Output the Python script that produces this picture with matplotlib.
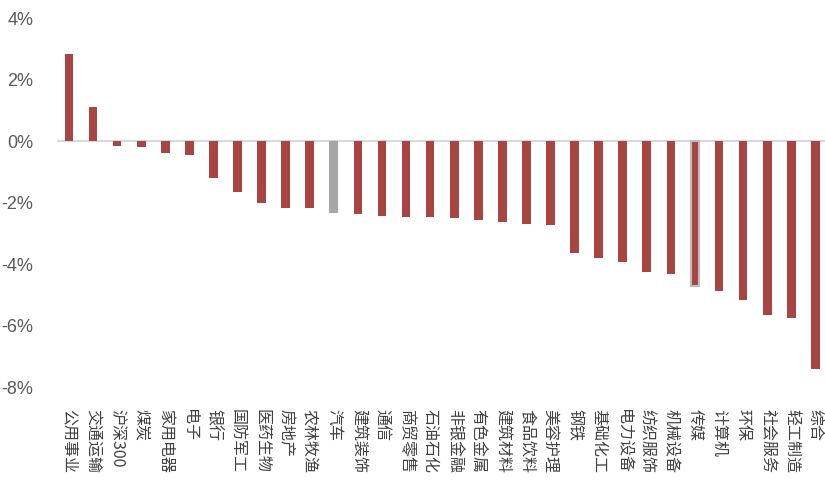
import matplotlib
matplotlib.use('Agg')
import matplotlib.pyplot as plt
from matplotlib.ticker import FuncFormatter

plt.rcParams['font.family'] = ['Liberation Sans', 'Noto Sans CJK SC', 'DejaVu Sans']

categories = ['公用事业', '交通运输', '沪深300', '煤炭', '家用电器', '电子', '银行', '国防军工',
              '医药生物', '房地产', '农林牧渔', '汽车', '建筑装饰', '通信', '商贸零售', '石油石化',
              '非银金融', '有色金属', '建筑材料', '食品饮料', '美容护理', '钢铁', '基础化工', '电力设备',
              '纺织服饰', '机械设备', '传媒', '计算机', '环保', '社会服务', '轻工制造', '综合']
values = [2.82, 1.10, -0.16, -0.20, -0.39, -0.45, -1.20, -1.66,
          -2.01, -2.17, -2.17, -2.34, -2.37, -2.43, -2.47, -2.47,
          -2.50, -2.56, -2.63, -2.69, -2.73, -3.64, -3.80, -3.93,
          -4.25, -4.32, -4.72, -4.87, -5.16, -5.65, -5.75, -7.40]
grey_cat = '汽车'
outlined_cat = '传媒'

red = '#A84442'
grey = '#A6A6A6'
colors = [grey if c == grey_cat else red for c in categories]

fig = plt.figure(figsize=(8.25, 4.92), dpi=100)
ax = fig.add_axes([0.069, 0.2134, 0.931, 0.75])

x = list(range(len(categories)))
bars = ax.bar(x, values, width=0.36, color=colors, zorder=2)
for b, c in zip(bars, categories):
    if c == outlined_cat:
        b.set_edgecolor('#BDBDBD')
        b.set_linewidth(1.5)

ax.axhline(0, color='#D9D9D9', linewidth=1.5, zorder=1)

ax.set_ylim(-8, 4)
ax.set_xlim(-0.5, 31.4)
ax.set_yticks([4, 2, 0, -2, -4, -6, -8])
ax.yaxis.set_major_formatter(FuncFormatter(lambda v, _: f"{int(v)}%"))
ax.tick_params(axis='y', length=0, pad=17, labelsize=13, labelcolor='#595959')
ax.set_xticks([])

for xi, c in zip(x, categories):
    ax.text(xi, -8, c, rotation=-90, ha='center', va='top',
            fontsize=11.5, color='#404040', family=['Noto Sans CJK SC', 'DejaVu Sans'],
            transform=ax.transData, clip_on=False)

# shift labels down a bit below the axis
for t in ax.texts:
    t.set_position((t.get_position()[0], -8.7))

for s in ax.spines.values():
    s.set_visible(False)

fig.savefig('out.png', dpi=100)
